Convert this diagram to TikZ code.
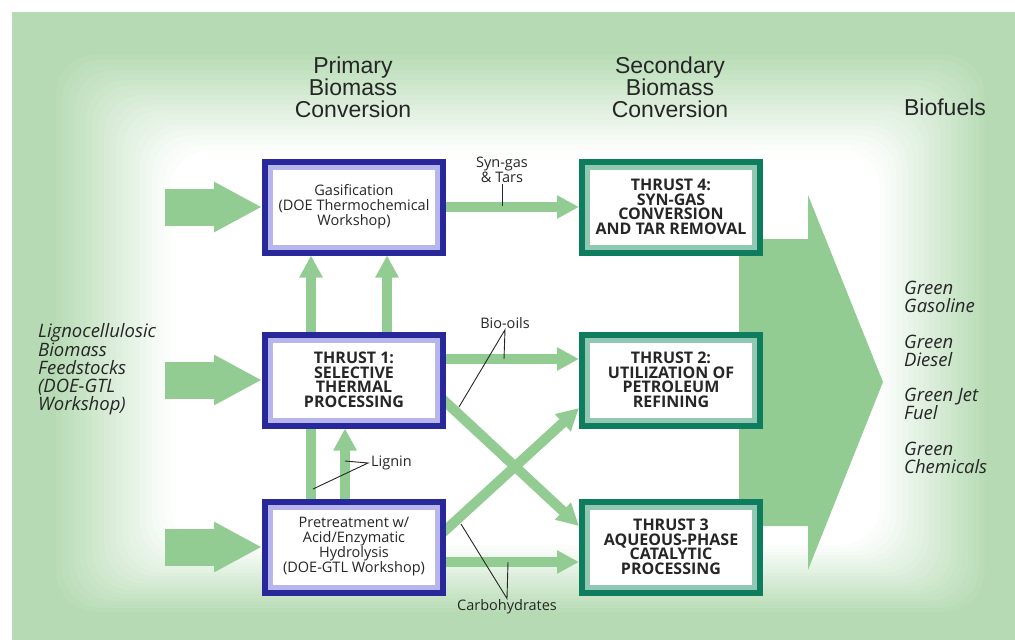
\documentclass[tikz,border=0pt]{standalone}
\usepackage{fontspec}
\setmainfont{Open Sans}
\newfontfamily\headfont{Liberation Sans}
\usepackage{tikz}
\usetikzlibrary{positioning}
\usetikzlibrary{arrows.meta, calc}

\definecolor{bggreen}{RGB}{182,219,180}
\definecolor{flowgreen}{RGB}{147,204,147}
\definecolor{navyedge}{RGB}{40,40,155}
\definecolor{navylight}{RGB}{182,182,236}
\definecolor{tealedge}{RGB}{14,125,94}
\definecolor{teallight}{RGB}{145,200,178}

\pgfdeclarelayer{backdrop}
\pgfdeclarelayer{streams}
\pgfsetlayers{backdrop,streams,main}

\begin{document}
\begin{tikzpicture}[x=1pt, y=-1pt, font=\fontsize{14.5}{15}\selectfont, text=black!85]%

    \tikzstyle{boxbase} = [rectangle, line width=6pt, fill=white, minimum width=178pt, minimum height=91pt, inner sep=0pt, outer sep=3pt, align=center]
    \tikzstyle{pbox} = [boxbase, draw=navyedge, path picture={\draw[navylight, line width=16pt] (path picture bounding box.south west) rectangle (path picture bounding box.north east);}]
    \tikzstyle{sbox} = [boxbase, draw=tealedge, font=\fontsize{16}{14.5}\selectfont\bfseries, path picture={\draw[teallight, line width=16pt] (path picture bounding box.south west) rectangle (path picture bounding box.north east);}]
    \tikzstyle{thrust} = [font=\fontsize{16}{14.5}\selectfont\bfseries]
    \tikzstyle{flow} = [draw=flowgreen, line width=10pt, -{Triangle[length=22pt, width=22pt]}]
    \tikzstyle{plainflow} = [draw=flowgreen, line width=10pt]
    \tikzstyle{feed} = [draw=flowgreen, line width=37pt, -{Triangle[length=48pt, width=47pt]}]
    \tikzstyle{pointer} = [draw=black!85, line width=0.9pt]
    \tikzstyle{head} = [font=\headfont\fontsize{23}{22}\selectfont, align=center, inner sep=0pt]
    \tikzstyle{fuel} = [font=\fontsize{18.5}{18}\selectfont\itshape, align=left, anchor=west, inner sep=0pt]
    \tikzstyle{tag} = [align=center, inner sep=1pt]
    %
    \useasboundingbox (0,0) rectangle (1015,640);

    %% Backdrop with white glow
    \begin{pgfonlayer}{backdrop}
        \fill[white] (0,0) rectangle (1015,640);
        \fill[bggreen] (12,12) rectangle (1015,640);
        \foreach \i in {1,...,20} {
            \pgfmathtruncatemacro{\p}{100-5*\i}
            \fill[bggreen!\p!white, rounded corners=40pt] (50+6*\i, 50+5*\i) rectangle (990-5.5*\i, 615-3.5*\i);
        }
        \fill[flowgreen] (739,239) -- (808,239) -- (808,195) -- (883,382) -- (808,570) -- (808,526) -- (739,526) -- cycle;
    \end{pgfonlayer}

    %% Column headings
    \node[head] (primhead) at (353,87) {Primary\\Biomass\\Conversion};
    \node[head] (sechead) at (670,87) {Secondary\\Biomass\\Conversion};
    \node[head] (fuelhead) at (945,107) {Biofuels};

    \begin{scope}[node distance = 317pt]
        %% Primary conversion
        \node[pbox] (gasif) at (354,207) {Gasification\\(DOE Thermochemical\\Workshop)};
        \node[pbox, thrust] (thr1) at (354,380) {THRUST 1:\\SELECTIVE\\THERMAL\\PROCESSING};
        \node[pbox] (pretr) at (354,547) {Pretreatment w/\\Acid/Enzymatic\\Hydrolysis\\(DOE-GTL Workshop)};

        %% Secondary conversion
        \node[sbox] (thr4) [right of = gasif] {THRUST 4:\\SYN-GAS\\CONVERSION\\AND TAR REMOVAL};
        \node[sbox] (thr2) [right of = thr1] {THRUST 2:\\UTILIZATION OF\\PETROLEUM\\REFINING};
        \node[sbox] (thr3) [right of = pretr] {THRUST 3\\AQUEOUS-PHASE\\CATALYTIC\\PROCESSING};
    \end{scope}

    %% Feedstock inputs
    \coordinate (feed1) at ($(gasif.west)+(-97,0)$);
    \coordinate (feed2) at ($(thr1.west)+(-97,0)$);
    \coordinate (feed3) at ($(pretr.west)+(-97,0)$);

    \begin{pgfonlayer}{streams}
        \draw[feed] (feed1) -- (gasif.west);
        \draw[feed] (feed2) -- (thr1.west);
        \draw[feed] (feed3) -- (pretr.west);

        %% Streams between conversions
        \draw[flow] (gasif.east) -- (thr4.west);
        \draw[flow] ($(thr1.east)+(0,-21)$) -- ($(thr2.west)+(0,-21)$);
        \draw[flow] ($(thr1.east)+(-8,15)$) -- ($(thr3.west)+(0,-21)$);
        \draw[flow] ($(pretr.east)+(-8,-10)$) -- ($(thr2.west)+(0,28)$);
        \draw[flow] ($(pretr.east)+(0,15)$) -- ($(thr3.west)+(0,15)$);

        \draw[flow] ($(thr1.north)+(-43,0)$) -- ($(gasif.south)+(-43,0)$);
        \draw[flow] ($(thr1.north)+(33,0)$) -- ($(gasif.south)+(33,0)$);
        \draw[plainflow] ($(pretr.north)+(-43,0)$) -- ($(thr1.south)+(-43,0)$);
        \draw[flow] ($(pretr.north)+(-9,0)$) -- ($(thr1.south)+(-9,0)$);
    \end{pgfonlayer}

    %% Stream labels
    \node[tag] (syn) at (502,170) {Syn-gas\\\& Tars};
    \coordinate (syntip) at (502,206);
    \draw[pointer] (syn.south) -- (syntip);

    \node[tag] (bio) at (505,323) {Bio-oils};
    \coordinate (biotip1) at (504,359);
    \coordinate (biotip2) at (459,407);
    \draw[pointer] (biotip1) -- (bio.south) -- (biotip2);

    \node[tag, anchor=west, inner sep=3pt] (lignin) at (368,463) {Lignin};
    \coordinate (ligtip1) at (345,461);
    \coordinate (ligtip2) at (313,489);
    \draw[pointer] (ligtip1) -- (lignin.west) -- (ligtip2);

    \node[tag] (carb) at (507,607) {Carbohydrates};
    \coordinate (carbtip1) at (508,562);
    \coordinate (carbtip2) at (461,524);
    \draw[pointer] (carbtip1) -- (carb.north) -- (carbtip2);

    %% Feedstocks and fuels
    \node[fuel] (feedstock) at (38,369) {Lignocellulosic\\Biomass\\Feedstocks\\(DOE-GTL\\Workshop)};
    \node[fuel] (gasoline) at (904,297) {Green\\Gasoline};
    \node[fuel] (diesel) at (904,351) {Green\\Diesel};
    \node[fuel] (jetfuel) at (904,404) {Green Jet\\Fuel};
    \node[fuel] (chemicals) at (904,458) {Green\\Chemicals};
\end{tikzpicture}
\end{document}
